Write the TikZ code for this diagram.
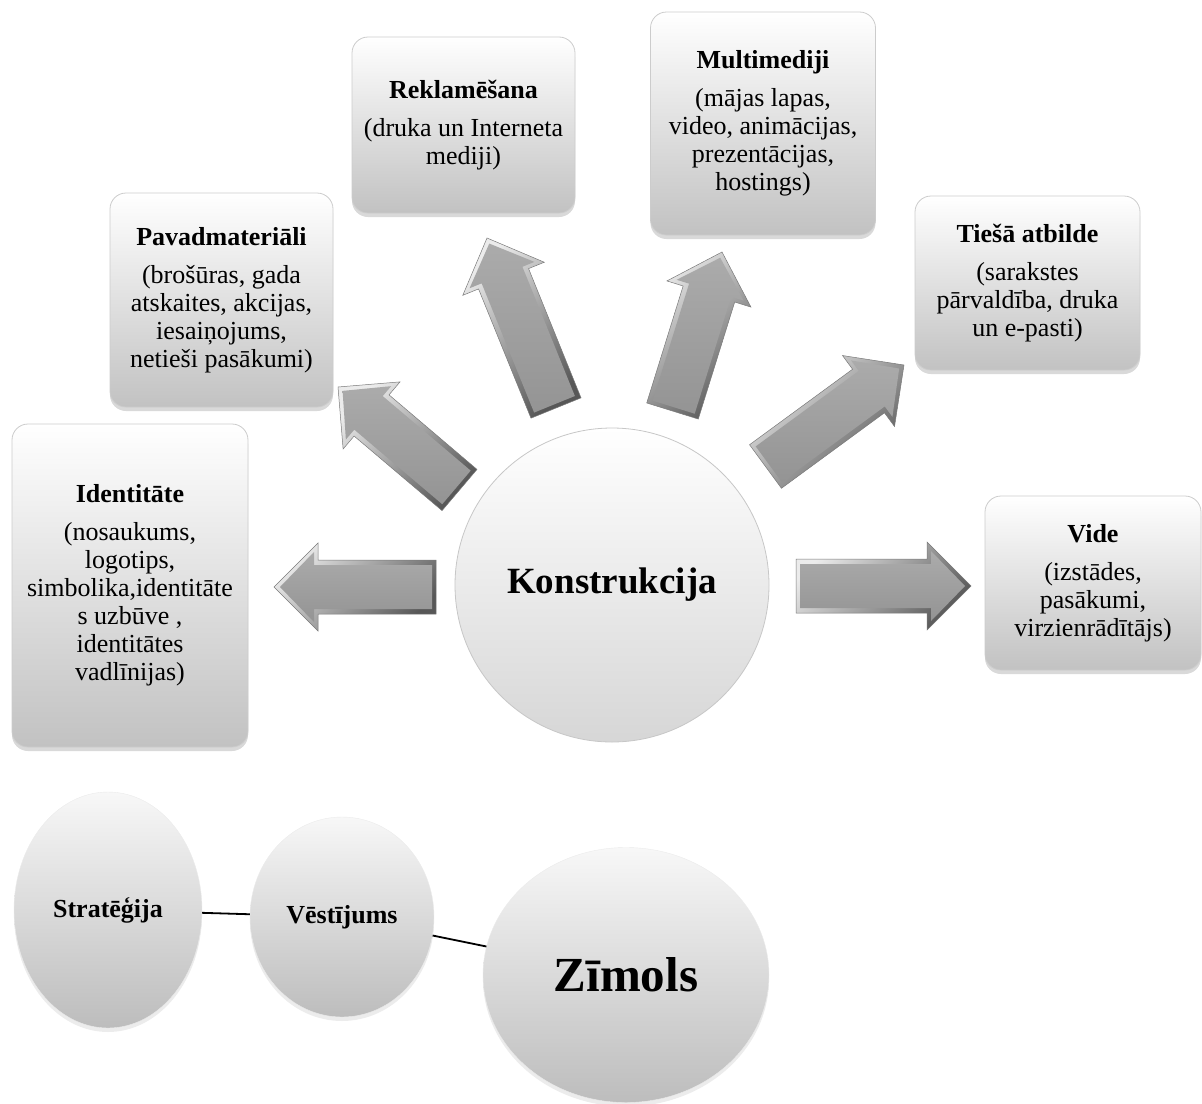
\documentclass[tikz,border=0pt]{standalone}
\usepackage{fontspec}
\setmainfont{Liberation Serif}
\usetikzlibrary{calc,shapes.geometric,shadows}
\tikzset{
  box/.style={rectangle, rounded corners=16pt, draw=black!20, line width=0.8pt,
    top color=white, bottom color=black!24,
    drop shadow={shadow xshift=0pt, shadow yshift=-4pt, opacity=0.3},
    align=center, inner sep=0pt, font=\fontsize{26}{28}\selectfont},
  oval/.style={ellipse, inner sep=0pt, draw=black!8, line width=0.4pt,
    top color=black!3, bottom color=black!26,
    drop shadow={shadow xshift=0pt, shadow yshift=-4pt, opacity=0.15}},
  bevel/.style={top color=black!8, bottom color=black!66, shading angle=45,
    draw=black!52, line width=0.5pt},
  face/.style={top color=black!33, bottom color=black!42},
  link/.style={draw=black, line width=1.8pt}
}
\newcommand\blockarrow[3]{%
  \coordinate (#3h) at ($(#2)!44pt!(#1)$);
  \coordinate (#3hi) at ($(#3h)!4pt!(#2)$);
  \coordinate (#3bi) at ($(#1)!4pt!(#2)$);
  \coordinate (#3ti) at ($(#2)!6pt!(#1)$);
  \path[bevel] ($(#1)!27pt!90:(#2)$) -- ($(#3h)!27pt!90:(#2)$) -- ($(#3h)!44pt!90:(#2)$) -- (#2) -- ($(#3h)!44pt!-90:(#2)$) -- ($(#3h)!27pt!-90:(#2)$) -- ($(#1)!27pt!-90:(#2)$) -- cycle;
  \path[face] ($(#3bi)!22pt!90:(#3ti)$) -- ($(#3hi)!22pt!90:(#3ti)$) -- ($(#3hi)!35pt!90:(#3ti)$) -- (#3ti) -- ($(#3hi)!35pt!-90:(#3ti)$) -- ($(#3hi)!22pt!-90:(#3ti)$) -- ($(#3bi)!22pt!-90:(#3ti)$) -- cycle;
}
\begin{document}
\begin{tikzpicture}[x=1pt, y=-1pt]
\useasboundingbox (0,0) rectangle (1202,1103);

% boxes
\node[box, minimum width=223pt, minimum height=176pt] (rek) at (463.5,125)
  {\textbf{Reklamēšana}\\[10pt](druka un Interneta\\mediji)};
\node[box, minimum width=225pt, minimum height=223pt] (mul) at (763,123.5)
  {\textbf{Multimediji}\\[10pt](mājas lapas,\\video, animācijas,\\prezentācijas,\\hostings)};
\node[box, minimum width=223pt, minimum height=214pt] (pav) at (221.5,300)
  {\textbf{Pavadmateriāli}\\[10pt](brošūras, gada\\atskaites, akcijas,\\iesaiņojums,\\netieši pasākumi)};
\node[box, minimum width=225pt, minimum height=174pt] (tie) at (1027.5,283)
  {\textbf{Tiešā atbilde}\\[10pt](sarakstes\\pārvaldība, druka\\un e-pasti)};
\node[box, minimum width=236pt, minimum height=323pt] (ide) at (130,585.5)
  {\textbf{Identitāte}\\[10pt](nosaukums,\\logotips,\\simbolika,identitāte\\s uzbūve ,\\identitātes\\vadlīnijas)};
\node[box, minimum width=216pt, minimum height=174pt] (vid) at (1093,583)
  {\textbf{Vide}\\[10pt](izstādes,\\pasākumi,\\virzienrādītājs)};

% centre
\node[circle, minimum size=314pt, inner sep=0pt, draw=black!22, line width=0.8pt,
  top color=white, bottom color=black!16,
  font=\bfseries\fontsize{37}{40}\selectfont] (kon) at (612,585) {Konstrukcija};

% block arrows
\coordinate (a1b) at (436,587);   \coordinate (a1t) at (274,587);
\coordinate (a2b) at (459.5,490); \coordinate (a2t) at (338,387);
\coordinate (a3b) at (556,408);   \coordinate (a3t) at (487,238);
\coordinate (a4b) at (672.5,411); \coordinate (a4t) at (722,252);
\coordinate (a5b) at (765.5,466.5); \coordinate (a5t) at (904,365);
\coordinate (a6b) at (796,586);   \coordinate (a6t) at (971,586);
\blockarrow{a1b}{a1t}{p1}
\blockarrow{a2b}{a2t}{p2}
\blockarrow{a3b}{a3t}{p3}
\blockarrow{a4b}{a4t}{p4}
\blockarrow{a5b}{a5t}{p5}
\blockarrow{a6b}{a6t}{p6}

% bottom ellipses
\node[oval, minimum width=188pt, minimum height=236pt,
  font=\bfseries\fontsize{26}{28}\selectfont] (strat) at (108,910) {Stratēģija};
\node[oval, minimum width=184pt, minimum height=200pt,
  font=\bfseries\fontsize{26}{28}\selectfont] (vest) at (342,917) {Vēstījums};
\node[oval, minimum width=286pt, minimum height=255pt,
  font=\bfseries\fontsize{49}{52}\selectfont] (zim) at (626,975) {Zīmols};
\draw[link] (strat) -- (vest);
\draw[link] (vest) -- (zim);
\end{tikzpicture}
\end{document}
